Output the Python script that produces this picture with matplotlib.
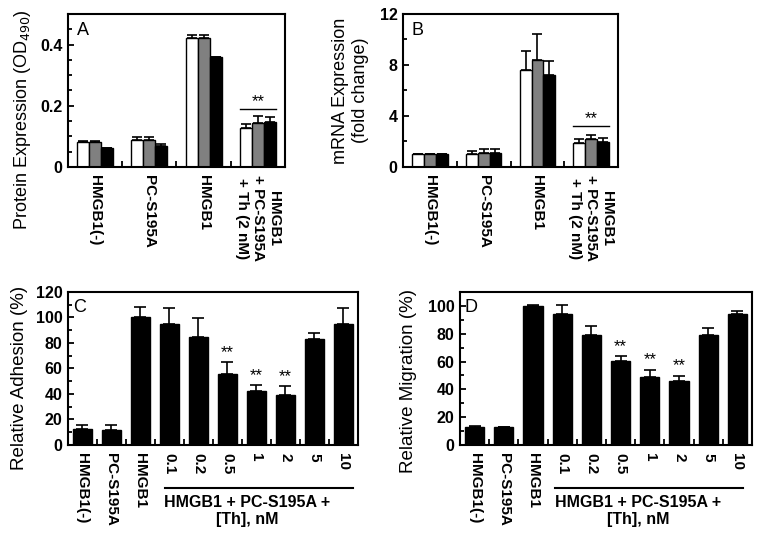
import numpy as np
import matplotlib
matplotlib.use('Agg')
import matplotlib.pyplot as plt
import matplotlib.transforms as mtransforms
from matplotlib.ticker import MultipleLocator

plt.rcParams['font.family'] = ['Liberation Sans', 'DejaVu Sans']
plt.rcParams['axes.linewidth'] = 1.5

# panel A / B categories
groupLabels = ['HMGB1(-)', 'PC-S195A', 'HMGB1', 'HMGB1\n+ PC-S195A\n+ Th (2 nM)']

# panel A: protein expression (OD490)
protWhite = [0.080, 0.087, 0.420, 0.129]
protWhiteErr = [0.004, 0.010, 0.010, 0.012]
protGrey = [0.080, 0.087, 0.420, 0.143]
protGreyErr = [0.004, 0.010, 0.010, 0.024]
protBlack = [0.061, 0.067, 0.360, 0.147]
protBlackErr = [0.001, 0.007, 0.001, 0.016]

# panel B: mRNA expression (fold change)
mrnaWhite = [1.0, 1.0, 7.6, 1.86]
mrnaWhiteErr = [0.0, 0.25, 1.5, 0.35]
mrnaGrey = [1.0, 1.07, 8.4, 2.17]
mrnaGreyErr = [0.0, 0.33, 2.0, 0.36]
mrnaBlack = [1.0, 1.12, 7.2, 1.98]
mrnaBlackErr = [0.0, 0.28, 1.1, 0.27]

# panel C / D categories
doseLabels = ['HMGB1(-)', 'PC-S195A', 'HMGB1', '0.1', '0.2', '0.5', '1', '2', '5', '10']
sigIdx = [5, 6, 7]

adhesion = [12.3, 11.6, 100, 95, 85, 56, 42, 39.4, 83, 94.5]
adhesionErr = [3.2, 4.4, 8, 12.6, 14.7, 9, 5, 6.6, 5, 13]

migration = [13.1, 12.6, 100, 94, 78.8, 60.1, 48.9, 45.8, 78.8, 94]
migrationErr = [0.5, 0.5, 0.3, 6.7, 6.9, 3.6, 5.3, 4.1, 5.2, 2]

tickFont = dict(fontsize=11, fontweight='bold')


def styleAxes(ax, major, minor):
    ax.yaxis.set_major_locator(MultipleLocator(major))
    ax.yaxis.set_minor_locator(MultipleLocator(minor))
    ax.tick_params(axis='y', which='both', direction='in', width=1.3, pad=4)
    ax.tick_params(axis='y', which='major', length=4)
    ax.tick_params(axis='y', which='minor', length=3)
    ax.tick_params(axis='x', which='major', length=0, pad=6)
    ax.tick_params(axis='x', which='minor', direction='in', length=4, width=1.3)
    for lab in ax.get_yticklabels():
        lab.set_fontsize(11.5)
        lab.set_fontweight('bold')


def groupPanel(ax, series, ylim, major, minor, sigY, letter, ylabel):
    x = np.arange(len(groupLabels))
    w = 0.22
    for k, (vals, errs, col) in enumerate(series):
        xs = x + (k - 1) * w
        ax.bar(xs, vals, w, color=col, edgecolor='black', linewidth=1)
        ax.errorbar(xs, vals, yerr=[np.zeros(len(errs)), errs], fmt='none',
                    ecolor='black', elinewidth=1.2, capsize=3.5, capthick=1.2)
    ax.set_xlim(-0.5, len(groupLabels) - 0.5)
    ax.set_ylim(*ylim)
    ax.set_xticks(x)
    ax.set_xticklabels(groupLabels, rotation=-90, ha='center', va='top', **tickFont)
    ax.set_xticks(x[:-1] + 0.5, minor=True)
    styleAxes(ax, major, minor)
    ax.plot([x[-1] - 0.33, x[-1] + 0.33], [sigY, sigY], color='black', lw=1)
    ax.text(x[-1], sigY, '**', ha='center', va='bottom', fontsize=12)
    ax.text(0.04, 0.95, letter, transform=ax.transAxes, ha='left', va='top', fontsize=13)
    ax.set_ylabel(ylabel, fontsize=13)


def dosePanel(ax, vals, errs, ylim, letter, ylabel, lineX, textX):
    x = np.arange(len(doseLabels))
    ax.bar(x, vals, 0.66, color='black', edgecolor='black')
    ax.errorbar(x, vals, yerr=[np.zeros(len(errs)), errs], fmt='none',
                ecolor='black', elinewidth=1.2, capsize=4, capthick=1.2)
    for i in sigIdx:
        ax.text(x[i], vals[i] + errs[i] + 1.5, '**', ha='center', va='bottom', fontsize=12)
    ax.set_xlim(-0.5, len(doseLabels) - 0.5)
    ax.set_ylim(*ylim)
    ax.set_xticks(x)
    ax.set_xticklabels(doseLabels, rotation=-90, ha='center', va='top', **tickFont)
    ax.set_xticks(x[:-1] + 0.5, minor=True)
    styleAxes(ax, 20, 10)
    trans = mtransforms.blended_transform_factory(ax.transData, ax.transAxes)
    ax.plot(lineX, [-0.28, -0.28], color='black', lw=1.5, transform=trans, clip_on=False)
    ax.text(textX, -0.33, 'HMGB1 + PC-S195A +\n[Th], nM', transform=trans,
            ha='center', va='top', fontsize=11.5, fontweight='bold', linespacing=1.15)
    ax.text(0.017, 0.955, letter, transform=ax.transAxes, ha='left', va='top', fontsize=13)
    ax.set_ylabel(ylabel, fontsize=13.5)


fig = plt.figure(figsize=(7.62, 5.48), dpi=100)
axA = fig.add_axes([0.0892, 0.6953, 0.2848, 0.2792])
axB = fig.add_axes([0.5289, 0.6953, 0.2822, 0.2792])
axC = fig.add_axes([0.0892, 0.1880, 0.3806, 0.2792])
axD = fig.add_axes([0.6037, 0.1880, 0.3832, 0.2792])

groupPanel(axA, [(protWhite, protWhiteErr, 'white'), (protGrey, protGreyErr, '#808080'),
                 (protBlack, protBlackErr, 'black')],
           (0, 0.5), 0.2, 0.05, 0.19, 'A', 'Protein Expression (OD$_{490}$)')
axA.yaxis.set_major_formatter(matplotlib.ticker.FuncFormatter(lambda v, p: '0' if v == 0 else f'{v:.1f}'))
for lab in axA.get_yticklabels():
    lab.set_fontsize(11.5)
    lab.set_fontweight('bold')
axA.yaxis.set_label_coords(-0.16, 0.31)

groupPanel(axB, [(mrnaWhite, mrnaWhiteErr, 'white'), (mrnaGrey, mrnaGreyErr, '#808080'),
                 (mrnaBlack, mrnaBlackErr, 'black')],
           (0, 12), 4, 2, 3.2, 'B', 'mRNA Expression\n(fold change)')
axB.yaxis.set_label_coords(-0.16, 0.5)

dosePanel(axC, adhesion, adhesionErr, (0, 120), 'C', 'Relative Adhesion (%)', [2.84, 9.33], 5.67)
axC.yaxis.set_label_coords(-0.138, 0.44)
dosePanel(axD, migration, migrationErr, (0, 110), 'D', 'Relative Migration (%)', [2.75, 9.19], 5.6)
axD.yaxis.set_label_coords(-0.147, 0.42)

fig.savefig('out.png', dpi=100)
